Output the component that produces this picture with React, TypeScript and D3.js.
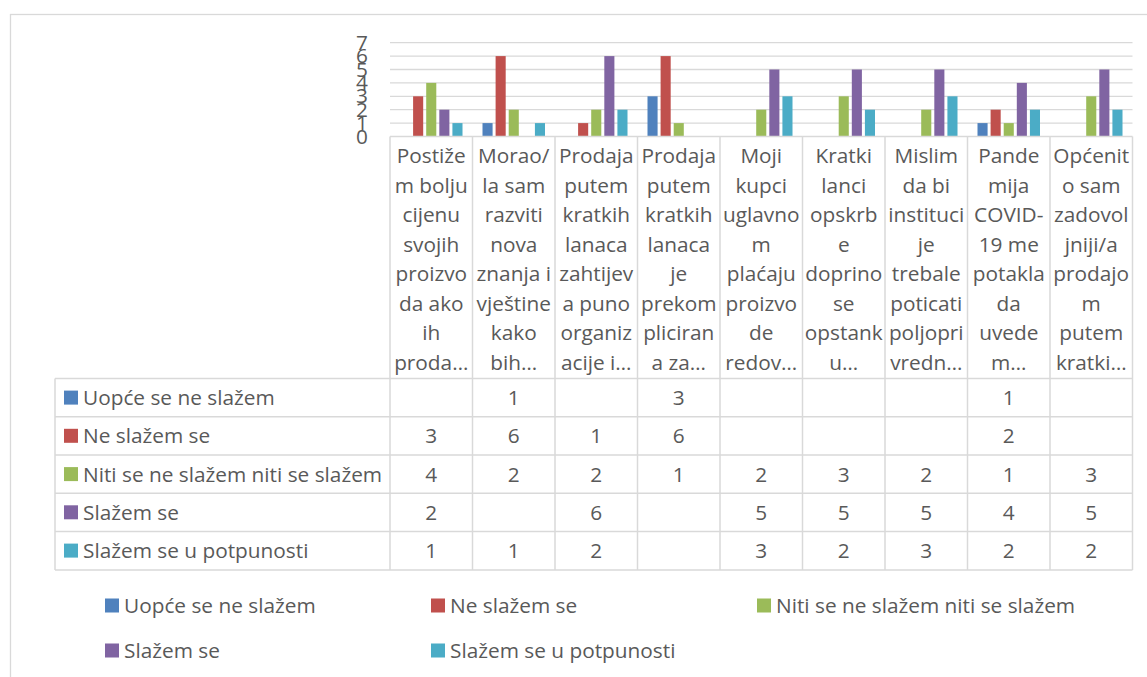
import React from "react";
import * as d3 from "d3";

const categoryLines: string[][] = [
  ["Postiže", "m bolju", "cijenu", "svojih", "proizvo", "da ako", "ih", "proda…"],
  ["Morao/", "la sam", "razviti", "nova", "znanja i", "vještine", "kako", "bih…"],
  ["Prodaja", "putem", "kratkih", "lanaca", "zahtijev", "a puno", "organiz", "acije i…"],
  ["Prodaja", "putem", "kratkih", "lanaca", "je", "prekom", "pliciran", "a za…"],
  ["Moji", "kupci", "uglavno", "m", "plaćaju", "proizvo", "de", "redov…"],
  ["Kratki", "lanci", "opskrb", "e", "doprino", "se", "opstank", "u…"],
  ["Mislim", "da bi", "instituci", "je", "trebale", "poticati", "poljopri", "vredn…"],
  ["Pande", "mija", "COVID-", "19 me", "potakla", "da", "uvede", "m…"],
  ["Općenit", "o sam", "zadovol", "jniji/a", "prodajo", "m", "putem", "kratki…"],
];

const seriesNames = [
  "Uopće se ne slažem",
  "Ne slažem se",
  "Niti se ne slažem niti se slažem",
  "Slažem se",
  "Slažem se u potpunosti",
];

const uopceNeSlazem: (number | null)[] = [null, 1, null, 3, null, null, null, 1, null];
const neSlazem: (number | null)[] = [3, 6, 1, 6, null, null, null, 2, null];
const nitiNiti: (number | null)[] = [4, 2, 2, 1, 2, 3, 2, 1, 3];
const slazem: (number | null)[] = [2, null, 6, null, 5, 5, 5, 4, 5];
const potpuno: (number | null)[] = [1, 1, 2, null, 3, 2, 3, 2, 2];

const seriesValues = [uopceNeSlazem, neSlazem, nitiNiti, slazem, potpuno];
const seriesColors = ["#4F81BD", "#C0504D", "#9BBB59", "#8064A2", "#4BACC6"];
const yTicks = [0, 1, 2, 3, 4, 5, 6, 7];

const W = 1147;
const H = 677;
const FONT = "'Open Sans', sans-serif";
const TXT = "#595959";
const GRID = "#D9D9D9";
const FS = 20.8;

export default function App() {
  const cats = categoryLines.map((_, i) => String(i));
  const plotLeft = 390;
  const plotRight = 1132.5;
  const x0 = d3.scaleBand<string>().domain(cats).range([plotLeft, plotRight]).padding(0);
  const step = x0.bandwidth();
  const x1 = d3
    .scaleBand<string>()
    .domain(seriesNames)
    .range([10, step - 10])
    .paddingInner(0.23)
    .paddingOuter(0);
  const y = d3.scaleLinear().domain([0, 7]).range([136.5, 42.7]);

  const headerTop = 136.5;
  const rowTops = [378.5, 416.7, 455, 493.2, 531.5];
  const tableBottom = 570;
  const rowH = 38.2;
  const keyLeft = 55;
  const lineY = d3.scaleLinear().domain([0, 7]).range([163, 370]);

  const legendCols = [105, 431, 757];
  const legendRows = [605.5, 650.5];

  return (
    <svg
      width={W}
      height={H}
      style={{ position: "fixed", left: 0, top: 0, background: "#fff" }}
      fontFamily={FONT}
    >
      <rect x={10.5} y={14.5} width={1300} height={800} fill="#fff" stroke={GRID} strokeWidth={1.3} />

      {yTicks.filter((t) => t > 0).map((t) => (
        <line key={"g" + t} x1={plotLeft} x2={plotRight} y1={y(t)} y2={y(t)} stroke={GRID} strokeWidth={1.3} />
      ))}

      {yTicks.map((t) => (
        <text key={"yt" + t} x={362} y={y(t) + 7} textAnchor="middle" fontSize={FS} fill={TXT}>
          {t}
        </text>
      ))}

      {seriesValues.map((vals, s) =>
        vals.map((v, c) =>
          v == null ? null : (
            <rect
              key={`b${s}-${c}`}
              x={(x0(String(c)) as number) + (x1(seriesNames[s]) as number)}
              y={y(v)}
              width={x1.bandwidth()}
              height={y(0) - y(v)}
              fill={seriesColors[s]}
            />
          )
        )
      )}

      <line x1={plotLeft} x2={plotRight} y1={headerTop} y2={headerTop} stroke={GRID} strokeWidth={1.5} />
      {[...rowTops, tableBottom].map((ry, i) => (
        <line key={"h" + i} x1={keyLeft} x2={plotRight} y1={ry} y2={ry} stroke={GRID} strokeWidth={1.5} />
      ))}
      {d3.range(cats.length + 1).map((i) => {
        const xx = plotLeft + i * step;
        return <line key={"v" + i} x1={xx} x2={xx} y1={headerTop} y2={tableBottom} stroke={GRID} strokeWidth={1.5} />;
      })}
      <line x1={keyLeft} x2={keyLeft} y1={rowTops[0]} y2={tableBottom} stroke={GRID} strokeWidth={1.5} />

      {categoryLines.map((lines, c) =>
        lines.map((ln, li) => (
          <text
            key={`c${c}-${li}`}
            x={(x0(String(c)) as number) + step / 2}
            y={lineY(li)}
            textAnchor="middle"
            fontSize={FS}
            fill={TXT}
          >
            {ln}
          </text>
        ))
      )}

      {seriesNames.map((name, s) => (
        <g key={"r" + s}>
          <rect x={64} y={rowTops[s] + rowH / 2 - 7} width={14} height={14} fill={seriesColors[s]} />
          <text x={83} y={rowTops[s] + 26.5} fontSize={FS} fill={TXT}>
            {name}
          </text>
          {seriesValues[s].map((v, c) =>
            v == null ? null : (
              <text
                key={`t${s}-${c}`}
                x={(x0(String(c)) as number) + step / 2}
                y={rowTops[s] + 26.5}
                textAnchor="middle"
                fontSize={FS}
                fill={TXT}
              >
                {v}
              </text>
            )
          )}
        </g>
      ))}

      {seriesNames.map((name, s) => {
        const col = s % 3;
        const row = Math.floor(s / 3);
        const lx = legendCols[col];
        const ly = legendRows[row];
        return (
          <g key={"l" + s}>
            <rect x={lx} y={ly - 7} width={14} height={14} fill={seriesColors[s]} />
            <text x={lx + 19} y={ly + 7.5} fontSize={FS} fill={TXT}>
              {name}
            </text>
          </g>
        );
      })}
    </svg>
  );
}
